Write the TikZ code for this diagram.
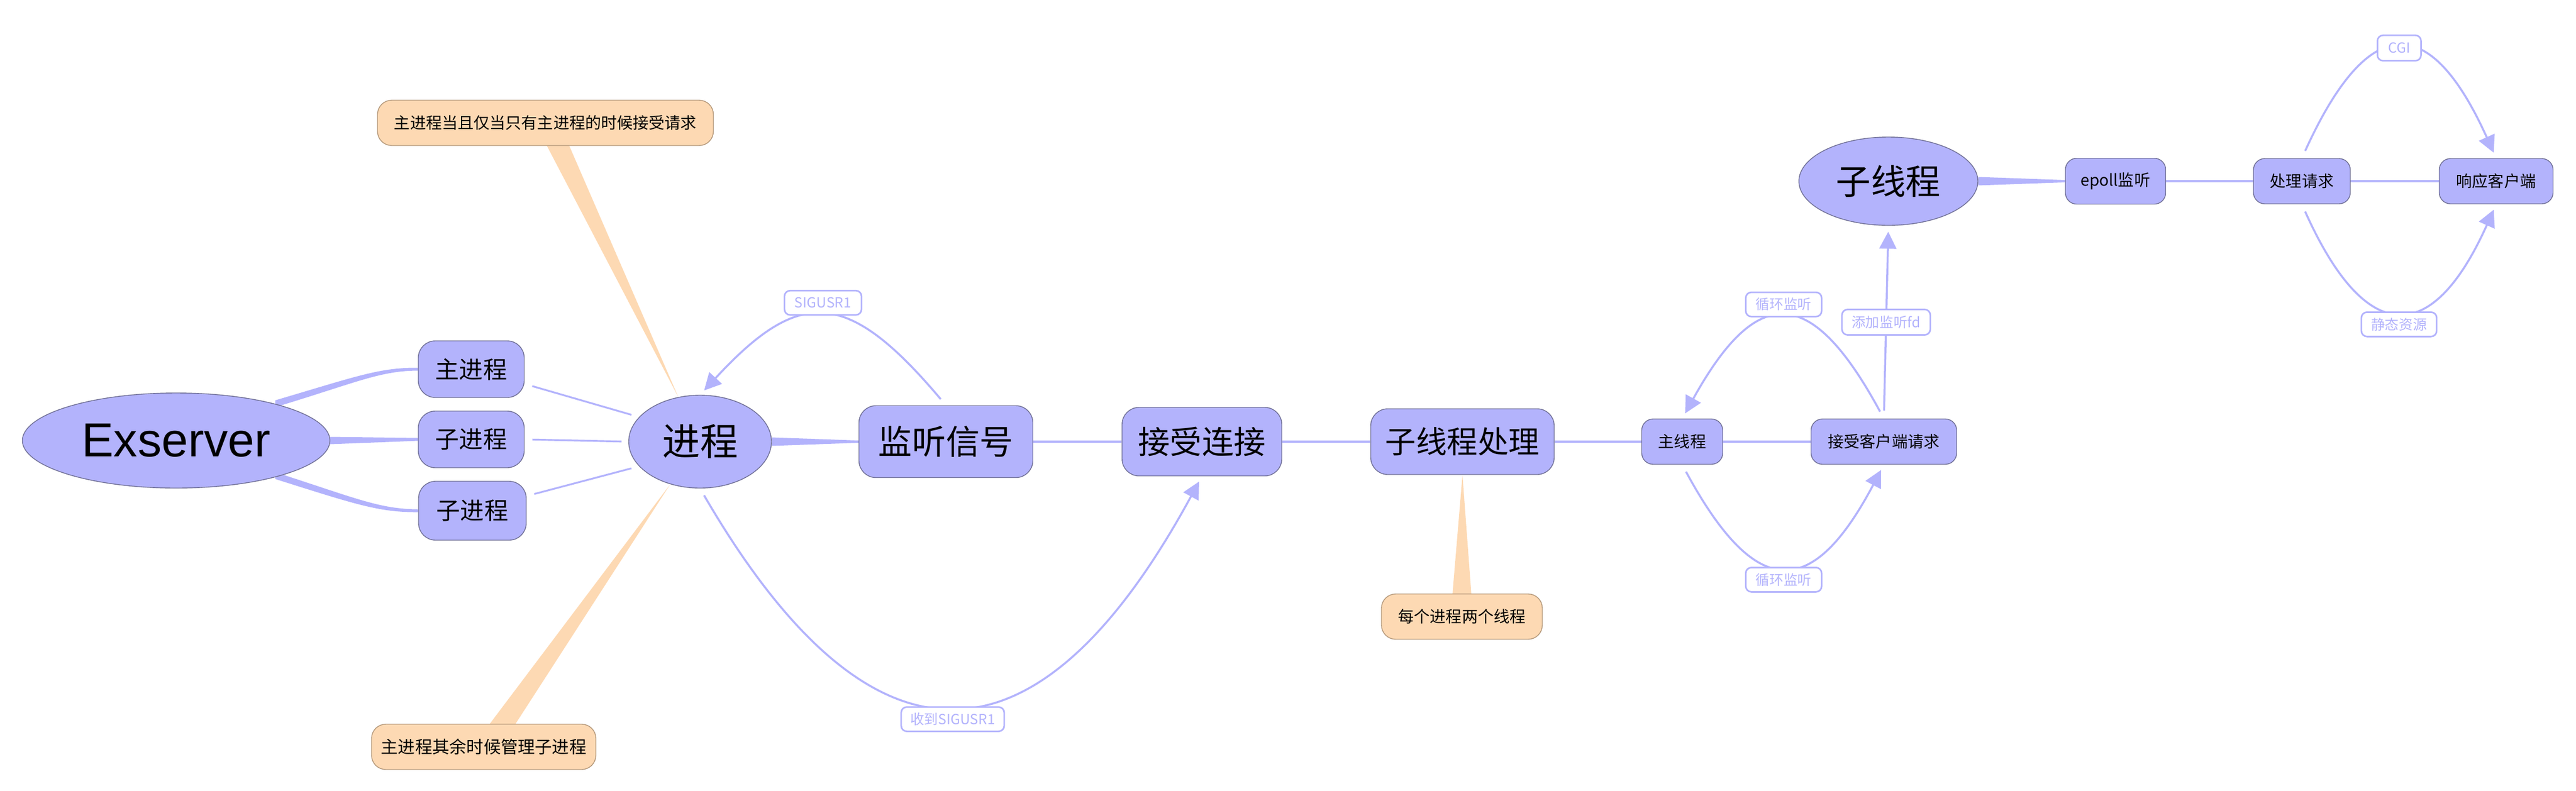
\documentclass[tikz,border=0pt]{standalone}
\usepackage{fontspec}
\setmainfont{Noto Sans CJK SC}
\newfontfamily\latinfont{Liberation Sans}
\usetikzlibrary{shapes.geometric, arrows.meta, calc, backgrounds}
\definecolor{lav}{RGB}{179,179,252}
\definecolor{lavedge}{RGB}{112,112,150}
\definecolor{peach}{RGB}{253,217,179}
\definecolor{peachedge}{RGB}{180,152,122}

\begin{document}
\begin{tikzpicture}[
    % GLOBAL CFG
    >={Triangle[length=3mm,width=3mm]},
    % Styles
    root/.style={% For the big ellipses
        ellipse,
        draw=lavedge,
        fill=lav,
        line width=0.4pt,
        inner sep=0pt,
        },
    topic/.style={% For the purple boxes
        rectangle,
        rounded corners=2mm,
        draw=lavedge,
        fill=lav,
        line width=0.4pt,
        inner sep=0pt,
        minimum height=0.8cm,
        font=\fontsize{8}{10}\selectfont,
        },
    note/.style={% For the orange remarks
        rectangle,
        rounded corners=2.5mm,
        draw=peachedge,
        fill=peach,
        line width=0.4pt,
        inner sep=0pt,
        minimum height=0.8cm,
        font=\fontsize{8}{10}\selectfont,
        },
    tag/.style={% For the texts sitting on the arrows
        rectangle,
        rounded corners=1mm,
        draw=lav,
        fill=white,
        text=lav,
        line width=0.8pt,
        inner sep=0pt,
        minimum height=0.43cm,
        font=\fontsize{7}{8}\selectfont,
        },
    branch/.style={% Tapered links, filled
        fill=lav,
        },
    tail/.style={% The wedge under a remark
        fill=peach,
        },
    link/.style={% Plain links
        draw=lav,
        line width=1.1pt,
        },
    flow/.style={% Curved arrows
        draw=lav,
        line width=1pt,
        shorten <=4pt,
        shorten >=3pt,
        },
    ]

\useasboundingbox (0,0) rectangle (45.48,-13.96);

%Start drawing the thing...
    % Left part: Exserver and the processes
    \node [root, minimum width=5.43cm, minimum height=1.68cm, font=\latinfont\fontsize{24}{28}\selectfont] (exs) at (3.11,-7.78) {Exserver};
    \node [topic, rounded corners=3mm, minimum width=1.87cm, minimum height=1.0cm, font=\fontsize{12}{14}\selectfont] (mainp) at (8.32,-6.52) {主进程};
    \node [topic, rounded corners=3mm, minimum width=1.87cm, minimum height=1.0cm, font=\fontsize{12}{14}\selectfont] (subp1) at (8.32,-7.76) {子进程};
    \node [topic, rounded corners=3mm, minimum width=1.9cm, minimum height=1.04cm, font=\fontsize{12}{14}\selectfont] (subp2) at (8.34,-9.02) {子进程};
    \node [root, minimum width=2.52cm, minimum height=1.64cm, font=\fontsize{19}{22}\selectfont] (proc) at (12.36,-7.80) {进程};

    % Main chain
    \node [topic, rounded corners=3mm, minimum width=3.07cm, minimum height=1.27cm, font=\fontsize{17}{20}\selectfont] (listen) at (16.70,-7.80) {监听信号};
    \node [topic, rounded corners=3mm, minimum width=2.82cm, minimum height=1.21cm, font=\fontsize{16}{19}\selectfont] (accept) at (21.22,-7.80) {接受连接};
    \node [topic, rounded corners=3mm, minimum width=3.24cm, minimum height=1.16cm, font=\fontsize{15.5}{18}\selectfont] (thread) at (25.82,-7.80) {子线程处理};
    \node [topic, minimum width=1.43cm] (mainth) at (29.70,-7.80) {主线程};
    \node [topic, minimum width=2.57cm] (request) at (33.26,-7.80) {接受客户端请求};

    % Upper chain
    \node [root, minimum width=3.16cm, minimum height=1.56cm, font=\fontsize{17.5}{20}\selectfont] (subth) at (33.34,-3.20) {子线程};
    \node [topic, minimum width=1.77cm, minimum height=0.81cm] (epoll) at (37.35,-3.20) {epoll监听};
    \node [topic, minimum width=1.71cm] (handle) at (40.64,-3.20) {处理请求};
    \node [topic, minimum width=2.01cm] (respond) at (44.07,-3.20) {响应客户端};

    % Remarks
    \node [note, minimum width=5.93cm] (noteA) at (9.63,-2.17) {主进程当且仅当只有主进程的时候接受请求};
    \node [note, minimum width=3.96cm, font=\fontsize{8.6}{10}\selectfont] (noteB) at (8.54,-13.19) {主进程其余时候管理子进程};
    \node [note, minimum width=2.84cm] (noteC) at (25.81,-10.89) {每个进程两个线程};

% Start connecting all.
    \begin{scope}[on background layer]
    % Tapered branches out of the ellipses
    \fill [branch] ($(exs.center)+(1.75,0.71)$) .. controls (6.3,-6.645) and (6.7,-6.49) .. ($(mainp.west)+(0,0.025)$)
        -- ($(mainp.west)+(0,-0.025)$) .. controls (6.7,-6.55) and (6.3,-6.755) .. ($(exs.center)+(1.75,0.59)$) -- cycle;
    \fill [branch] ($(exs.east)+(0,0.065)$) -- ($(subp1.west)+(0,0.025)$) -- ($(subp1.west)+(0,-0.025)$) -- ($(exs.east)+(0,-0.065)$) -- cycle;
    \fill [branch] ($(exs.center)+(1.75,-0.56)$) .. controls (6.3,-8.805) and (6.7,-8.99) .. ($(subp2.west)+(0,0.025)$)
        -- ($(subp2.west)+(0,-0.025)$) .. controls (6.7,-9.05) and (6.3,-8.915) .. ($(exs.center)+(1.75,-0.68)$) -- cycle;
    \fill [branch] ($(proc.east)+(0,0.075)$) -- ($(listen.west)+(0,0.02)$) -- ($(listen.west)+(0,-0.02)$) -- ($(proc.east)+(0,-0.075)$) -- cycle;
    \fill [branch] ($(subth.east)+(0,0.075)$) -- ($(epoll.west)+(0,0.02)$) -- ($(epoll.west)+(0,-0.02)$) -- ($(subth.east)+(0,-0.075)$) -- cycle;

    % Wedges of the remarks
    \fill [tail] ($(noteA.south)+(0,0.05)$) -- ($(noteA.south)+(0.40,0.05)$) -- (proc.116) -- cycle;
    \fill [tail] ($(noteB.north)+(0.07,-0.05)$) -- ($(noteB.north)+(0.53,-0.05)$) -- (proc.235) -- cycle;
    \fill [tail] ($(noteC.north)+(-0.17,-0.05)$) -- ($(noteC.north)+(0.17,-0.05)$) -- (thread.south) -- cycle;

    % Plain links
    \draw [link] (listen) -- (accept);
    \draw [link] (accept) -- (thread);
    \draw [link] (thread) -- (mainth);
    \draw [link] (mainth) -- (request);
    \draw [link] (epoll) -- (handle);
    \draw [link] (handle) -- (respond);
    \end{scope}

    % Processes back to the ellipse
    \draw [link, line width=0.9pt, shorten <=0.14cm, shorten >=0.14cm] ($(mainp.east)+(0,-0.26)$) -- (proc.158);
    \draw [link, line width=0.9pt, shorten <=0.14cm, shorten >=0.12cm] (subp1.east) -- (proc.west);
    \draw [link, line width=0.9pt, shorten <=0.14cm, shorten >=0.14cm] ($(subp2.east)+(0,0.26)$) -- (proc.202);

    % Curved arrows
    \draw [flow, ->] (listen.north) .. controls (14.95,-5.08) and (14.11,-5.08) .. (proc.north)
        node [tag, pos=0.5, anchor=south, minimum width=1.36cm] (sigtag) {SIGUSR1};
    \draw [flow, ->] (proc.south) .. controls (15.36,-13.79) and (18.30,-13.79) .. (accept.south)
        node [tag, pos=0.5, anchor=north, minimum width=1.82cm] (recvtag) {收到SIGUSR1};
    \draw [flow, ->] (request.north) .. controls (31.97,-5.01) and (31.02,-5.01) .. (mainth.north)
        node [tag, pos=0.5, anchor=south, minimum width=1.34cm] (looptagA) {循环监听};
    \draw [flow, ->] (mainth.south) .. controls (31.00,-10.61) and (31.99,-10.61) .. (request.south)
        node [tag, pos=0.5, anchor=north, minimum width=1.34cm] (looptagB) {循环监听};
    \draw [flow, ->] (request.north) -- (subth.south)
        node [tag, pos=0.5, minimum width=1.56cm, minimum height=0.45cm] (fdtag) {添加监听fd};
    \draw [flow, ->] (handle.north) .. controls (41.82,-0.2) and (42.90,-0.2) .. (respond.north)
        node [tag, pos=0.5, minimum width=0.77cm, minimum height=0.45cm] (cgitag) {CGI};
    \draw [flow, ->] (handle.south) .. controls (41.77,-6.13) and (42.94,-6.13) .. (respond.south)
        node [tag, pos=0.5, anchor=north, minimum width=1.33cm] (statictag) {静态资源};

\end{tikzpicture}
\end{document}
